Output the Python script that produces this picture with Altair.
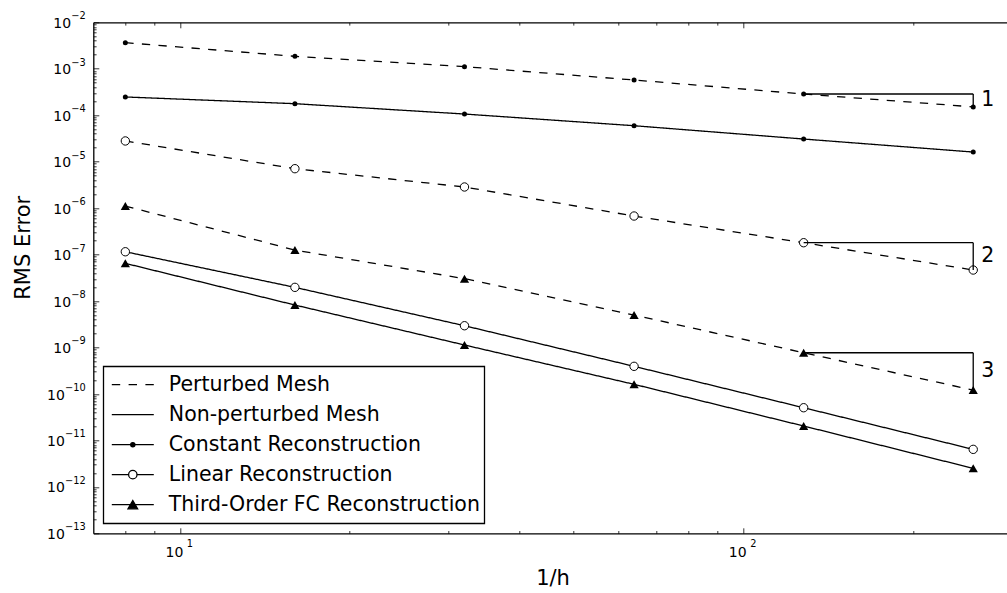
import json
import altair as alt
import pandas as pd

# ---------------- data ----------------
h_inv = [8, 16, 32, 64, 128, 256]

const_perturbed = [3.64e-3, 1.85e-3, 1.11e-3, 5.73e-4, 2.86e-4, 1.51e-4]
const_nonpert = [2.47e-4, 1.77e-4, 1.06e-4, 5.94e-5, 3.07e-5, 1.61e-5]
lin_perturbed = [2.79e-5, 7.06e-6, 2.85e-6, 6.76e-7, 1.80e-7, 4.65e-8]
lin_nonpert = [1.15e-7, 1.97e-8, 2.94e-9, 3.93e-10, 5.05e-11, 6.41e-12]
third_perturbed = [1.11e-6, 1.25e-7, 3.03e-8, 4.99e-9, 7.71e-10, 1.21e-10]
third_nonpert = [6.47e-8, 8.2e-9, 1.13e-9, 1.61e-10, 2.04e-11, 2.5e-12]

slope_labels = ["1", "2", "3"]

tick_base = "10"
x_major = [10, 100]
x_minor = [8, 9, 20, 30, 40, 50, 60, 70, 80, 90, 200]
x_tick_exponents = ["1", "2"]

y_major = [1e-13, 1e-12, 1e-11, 1e-10, 1e-9, 1e-8, 1e-7, 1e-6, 1e-5, 1e-4, 1e-3, 1e-2]
y_tick_exponents = ["−13", "−12", "−11", "−10", "−9", "−8",
                    "−7", "−6", "−5", "−4", "−3", "−2"]
y_minor = [m * 10.0 ** e for e in range(-13, -2) for m in range(2, 10)]

legend_entries = ["Perturbed Mesh", "Non-perturbed Mesh", "Constant Reconstruction",
                  "Linear Reconstruction", "Third-Order FC Reconstruction"]

# ---------------- tables ----------------
series = [
    ("Constant", "Perturbed", const_perturbed),
    ("Constant", "Non-perturbed", const_nonpert),
    ("Linear", "Perturbed", lin_perturbed),
    ("Linear", "Non-perturbed", lin_nonpert),
    ("Third", "Perturbed", third_perturbed),
    ("Third", "Non-perturbed", third_nonpert),
]
rows = []
for recon, mesh, vals in series:
    for xv, yv in zip(h_inv, vals):
        rows.append({"x": xv, "y": yv, "recon": recon, "mesh": mesh,
                     "series": recon + " " + mesh})
df = pd.DataFrame(rows)

i1, i2 = h_inv.index(128), h_inv.index(256)
seg_rows, lab_rows = [], []
for lab, vals in zip(slope_labels, [const_perturbed, lin_perturbed, third_perturbed]):
    y1, y2 = vals[i1], vals[i2]
    seg_rows.append({"x": h_inv[i1], "x2": h_inv[i2], "y": y1, "y2": y1})
    seg_rows.append({"x": h_inv[i2], "x2": h_inv[i2], "y": y1, "y2": y2})
    lab_rows.append({"x": h_inv[i2], "y": (y1 * y2) ** 0.5, "t": lab})
seg_df = pd.DataFrame(seg_rows)
lab_df = pd.DataFrame(lab_rows)

leg_df = pd.DataFrame({"entry": legend_entries, "x": [h_inv[0]] * 5, "y": [1e-20] * 5})

# ---------------- styling ----------------
FONT = "DejaVu Sans"
LW = 1.3
BASE_FS = 14
EXP_FS = 9.8
xs = alt.Scale(type="log", domain=[7.018, 293.9], nice=False)
ys = alt.Scale(type="log", domain=[1e-13, 1e-2], nice=False)

x_exp_expr = json.dumps(x_tick_exponents, ensure_ascii=False) + "[round(log(datum.value)/LN10)-1]"
y_exp_expr = json.dumps(y_tick_exponents, ensure_ascii=False) + "[round(log(datum.value)/LN10)+13]"
base_expr = json.dumps(tick_base)

lab_common = dict(labelFont=FONT, labelColor="black", labelFlush=False, labelOverlap=False,
                  grid=False, ticks=False)

ax_x_main = alt.Axis(orient="bottom", values=x_major, labelExpr=base_expr,
                     domain=True, domainColor="black", domainWidth=LW,
                     labelFontSize=BASE_FS, labelBaseline="alphabetic", labelPadding=22.7,
                     labelOffset=-6,
                     title="1/h", titleFont=FONT, titleFontSize=21, titleFontWeight="normal",
                     titleColor="black", titleX=459.2, titleY=45, titleBaseline="middle",
                     titleAlign="center", **lab_common)
ax_x_exp = alt.Axis(orient="bottom", values=x_major, labelExpr=x_exp_expr, domain=False,
                    labelFontSize=EXP_FS, labelBaseline="alphabetic", labelPadding=13.4,
                    labelOffset=9.5, title=None, **lab_common)

ax_y_main = alt.Axis(orient="left", values=y_major[4:], labelExpr=base_expr,
                     domain=True, domainColor="black", domainWidth=LW,
                     labelFontSize=BASE_FS, labelBaseline="alphabetic", labelOffset=5.1,
                     labelPadding=8 + 14.6,
                     title="RMS Error", titleFont=FONT, titleFontSize=21,
                     titleFontWeight="normal", titleColor="black", titleX=-70, titleY=225,
                     titleAngle=270, titleAlign="center", titleBaseline="middle",
                     **lab_common)
ax_y_base2 = alt.Axis(orient="left", values=y_major[:4], labelExpr=base_expr, domain=False,
                      labelFontSize=BASE_FS, labelBaseline="alphabetic", labelOffset=5.1,
                      labelPadding=8 + 21.0, title=None, **lab_common)
ax_y_exp = alt.Axis(orient="left", values=y_major, labelExpr=y_exp_expr, domain=False,
                    labelFontSize=EXP_FS, labelBaseline="alphabetic", labelOffset=-3.5,
                    labelPadding=8, title=None, **lab_common)

ax_top_frame = alt.Axis(orient="top", ticks=False, labels=False, grid=False, domain=True,
                        domainColor="black", domainWidth=LW, title=None)


def tick_axis(orient, values, size):
    return alt.Axis(orient=orient, values=values, tickSize=size, offset=-size, ticks=True,
                    labels=False, domain=False, grid=False, title=None,
                    tickColor="black", tickWidth=0.8)


# ---------------- layers ----------------
lines = alt.Chart(df).mark_line(color="black", strokeWidth=LW).encode(
    x=alt.X("x:Q", scale=xs, axis=ax_x_main),
    y=alt.Y("y:Q", scale=ys, axis=ax_y_main),
    detail="series:N",
    strokeDash=alt.StrokeDash("mesh:N", scale=alt.Scale(domain=["Perturbed", "Non-perturbed"],
                                                         range=[[8.3, 8.3], [1, 0]]),
                              legend=None),
)

pts_const = alt.Chart(df).transform_filter(alt.datum.recon == "Constant").mark_point(
    shape="circle", filled=True, color="black", size=25, opacity=1).encode(
    x=alt.X("x:Q", scale=xs, axis=tick_axis("bottom", x_major, 5.5)),
    y=alt.Y("y:Q", scale=ys, axis=tick_axis("left", y_major, 5.5)),
)
pts_lin = alt.Chart(df).transform_filter(alt.datum.recon == "Linear").mark_point(
    shape="circle", filled=True, fill="white", stroke="black", strokeWidth=1,
    size=70, opacity=1).encode(
    x=alt.X("x:Q", scale=xs, axis=tick_axis("bottom", x_minor, 2.8)),
    y=alt.Y("y:Q", scale=ys, axis=tick_axis("left", y_minor, 2.8)),
)
pts_third = alt.Chart(df).transform_filter(alt.datum.recon == "Third").mark_point(
    shape="triangle-up", filled=True, color="black", size=85, opacity=1).encode(
    x=alt.X("x:Q", scale=xs, axis=ax_top_frame),
    y=alt.Y("y:Q", scale=ys, axis=ax_y_base2),
)

slope_rules = alt.Chart(seg_df).mark_rule(color="black", strokeWidth=LW).encode(
    x=alt.X("x:Q", scale=xs, axis=tick_axis("top", x_major, 5.5)),
    x2="x2:Q",
    y=alt.Y("y:Q", scale=ys, axis=ax_y_exp),
    y2="y2:Q",
)
slope_text = alt.Chart(lab_df).mark_text(font=FONT, fontSize=20.5, color="black",
                                         align="left", baseline="middle", dx=8).encode(
    x=alt.X("x:Q", scale=xs, axis=tick_axis("top", x_minor, 2.8)),
    y=alt.Y("y:Q", scale=ys, axis=None),
    text="t:N",
)

# legend symbols: line + marker as custom paths in [-1, 1] units
sym_paths = [
    "M-1,0L-0.6,0M-0.2,0L0.2,0M0.6,0L1,0",
    "M-1,0L1,0",
    "M-1,0L1,0M0.1,0A0.1,0.1,0,1,1,-0.1,0A0.1,0.1,0,1,1,0.1,0Z",
    "M-1,0L-0.2,0M0.2,0L1,0M0.2,0A0.2,0.2,0,1,1,-0.2,0A0.2,0.2,0,1,1,0.2,0Z",
    "M-1,0L1,0M0,-0.2L0.23,0.2L-0.23,0.2Z",
]
sym_fills = ["black", "black", "black", "white", "black"]
leg = alt.Legend(title=None, orient="bottom-left", offset=10, symbolSize=1764,
                 symbolStrokeWidth=LW, clipHeight=29.7, rowPadding=0, padding=3.5,
                 symbolOffset=4, labelOffset=14, labelFont=FONT, labelFontSize=20.5,
                 labelColor="black", labelLimit=0, strokeColor="black", fillColor="white",
                 cornerRadius=0)
legend_layer = alt.Chart(leg_df).mark_point(filled=True, stroke="black", strokeWidth=LW,
                                            size=1764, opacity=1, clip=True).encode(
    x=alt.X("x:Q", scale=xs, axis=ax_x_exp),
    y=alt.Y("y:Q", scale=ys, axis=None),
    shape=alt.Shape("entry:N", scale=alt.Scale(domain=legend_entries, range=sym_paths),
                    legend=leg),
    fill=alt.Fill("entry:N", scale=alt.Scale(domain=legend_entries, range=sym_fills),
                  legend=leg),
)

chart = alt.layer(
    lines, pts_const, pts_lin, pts_third, slope_rules, slope_text, legend_layer
).resolve_scale(
    x="shared", y="shared"
).resolve_axis(
    x="independent", y="independent"
).properties(
    width=913.7, height=511,
    padding={"left": 93.3, "top": 22.3, "right": 0, "bottom": 59.7},
    autosize=alt.AutoSizeParams(type="none"),
    background="white",
).configure_view(
    strokeWidth=0
).configure_legend(
    strokeWidth=LW
)

chart.save("out.html", embed_options={"renderer": "svg", "actions": False})
